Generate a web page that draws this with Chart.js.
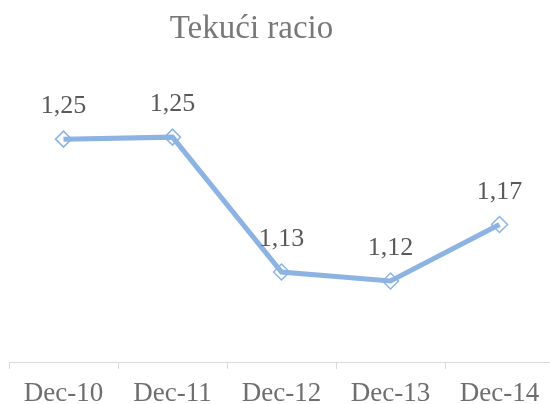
<!DOCTYPE html>
<html>
<head>
<meta charset="utf-8">
<script src="https://cdn.jsdelivr.net/npm/chart.js@4/dist/chart.umd.min.js"></script>
<style>
  html, body { margin: 0; padding: 0; background: #ffffff; overflow: hidden; }
  #wrap { position: absolute; left: 0; top: 0; width: 555px; height: 404px; }
  #c { width: 555px; height: 404px; display: block; }
</style>
</head>
<body>
<div id="wrap"><canvas id="c" width="555" height="404"></canvas></div>
<script>
const TITLE = 'Tekući racio';
const CATEGORIES = ['Dec-10', 'Dec-11', 'Dec-12', 'Dec-13', 'Dec-14'];
const VALUES = [1.2497, 1.2515, 1.1306, 1.1226, 1.1732];
const Y_MIN = 1.05;
const Y_MAX = 1.30;

const SERIF = '"Liberation Serif", "Times New Roman", "DejaVu Serif", serif';
const LINE_COLOR = '#8DB3E2';

const titlePlugin = {
  id: 'excelTitle',
  afterDraw(chart) {
    const ctx = chart.ctx;
    ctx.save();
    ctx.font = '33px ' + SERIF;
    ctx.fillStyle = '#787878';
    ctx.textAlign = 'center';
    ctx.textBaseline = 'alphabetic';
    ctx.fillText(TITLE, 251.5, 38);
    ctx.restore();
  }
};

const labelPlugin = {
  id: 'pointLabels',
  afterDatasetsDraw(chart) {
    const ctx = chart.ctx;
    const meta = chart.getDatasetMeta(0);
    ctx.save();
    ctx.font = '26px ' + SERIF;
    ctx.fillStyle = '#595959';
    ctx.textAlign = 'center';
    ctx.textBaseline = 'alphabetic';
    meta.data.forEach((pt, i) => {
      const txt = VALUES[i].toFixed(2).replace('.', ',');
      ctx.fillText(txt, pt.x, pt.y - 26);
    });
    ctx.restore();
  }
};

new Chart(document.getElementById('c'), {
  type: 'line',
  data: {
    labels: CATEGORIES,
    datasets: [{
      data: VALUES,
      borderColor: LINE_COLOR,
      borderWidth: 5,
      tension: 0,
      fill: false,
      clip: false,
      pointStyle: 'rectRot',
      pointRadius: 8,
      pointBorderWidth: 1.5,
      pointBorderColor: LINE_COLOR,
      pointBackgroundColor: 'rgba(0,0,0,0)'
    }]
  },
  options: {
    responsive: false,
    animation: false,
    events: [],
    layout: { autoPadding: false, padding: { left: 9, right: 1, top: 83, bottom: -14 } },
    plugins: {
      legend: { display: false },
      tooltip: { enabled: false },
      title: { display: false }
    },
    scales: {
      x: {
        offset: true,
        grid: {
          display: true,
          offset: true,
          drawOnChartArea: false,
          drawTicks: true,
          tickLength: 7,
          color: '#D9D9D9',
          lineWidth: 1
        },
        border: { display: true, color: '#D9D9D9', width: 1 },
        ticks: {
          color: '#6E6E6E',
          font: { family: SERIF, size: 27, lineHeight: 1.0 },
          padding: 11,
          maxRotation: 0,
          autoSkip: false
        }
      },
      y: {
        display: false,
        min: Y_MIN,
        max: Y_MAX
      }
    }
  },
  plugins: [titlePlugin, labelPlugin]
});
</script>
</body>
</html>
